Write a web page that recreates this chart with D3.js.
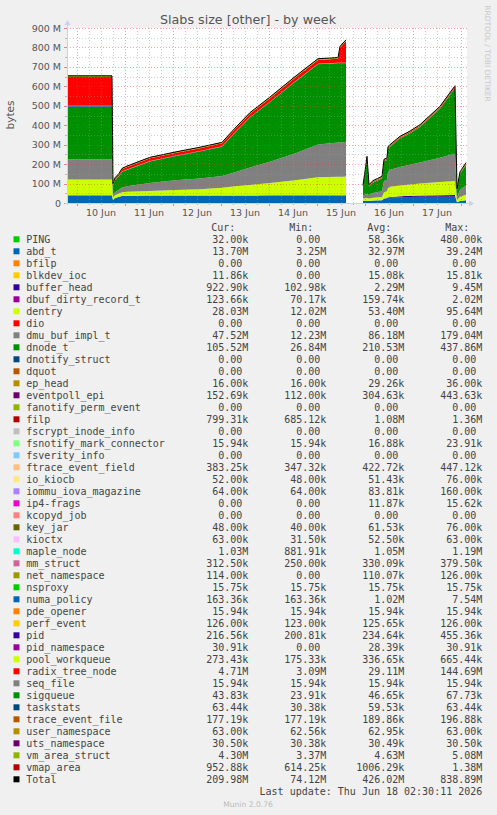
<!DOCTYPE html>
<html>
<head>
<meta charset="utf-8">
<script src="https://cdn.jsdelivr.net/npm/d3@7"></script>
<style>
  body { margin: 0; background: #f0f0f0; }
  svg { display: block; }
</style>
</head>
<body>
<svg id="chart"></svg>
<script>
// sample times (30 min steps in the rrd, only the turning points kept here)
const times = [
  '2026-06-09 19:00', '2026-06-10 17:30', '2026-06-10 18:00', '2026-06-10 19:00', '2026-06-10 21:00',
  '2026-06-10 22:30', '2026-06-11 01:00', '2026-06-11 12:30', '2026-06-12 01:00', '2026-06-12 13:30',
  '2026-06-13 00:30', '2026-06-13 07:00', '2026-06-13 14:30', '2026-06-14 00:30', '2026-06-14 13:00',
  '2026-06-15 00:30', '2026-06-15 10:30', '2026-06-15 11:30', '2026-06-15 13:00', '2026-06-15 14:30',
  '2026-06-15 18:30',
  '2026-06-15 23:00', '2026-06-16 00:30', '2026-06-16 01:00', '2026-06-16 02:00', '2026-06-16 04:00',
  '2026-06-16 08:30', '2026-06-16 09:30', '2026-06-16 11:00', '2026-06-16 11:30', '2026-06-16 12:30',
  '2026-06-16 17:30', '2026-06-16 22:30', '2026-06-17 03:30', '2026-06-17 13:30', '2026-06-17 21:00',
  '2026-06-17 22:00', '2026-06-17 23:30', '2026-06-18 02:30'
];

// values in MB, null = no data
const abd_t = [38, 38, 15, 25, 32, 36, 37, 37.5, 37.5, 37.5, 37.5, 38, 38, 38.5, 38.5, 39, 39.2, 39.2, 39.2, 39.2, null,
  10, 11, 11, 10, 13, 14, 22, 24, 27, 28, 30, 31, 32, 32, 32, 3.3, 10, 13.7];
const buffer_head = [1.5, 1.5, 0.3, 0.4, 0.5, 0.5, 0.6, 0.8, 0.9, 1, 1, 1, 1, 1, 1, 1, 1, 1, 1, 1, null,
  0.4, 0.4, 0.4, 0.4, 0.5, 0.6, 1, 2, 2.5, 3, 5, 6, 7, 8.5, 9.4, 0.2, 0.6, 0.92];
const dentry = [82, 82, 12.5, 14, 16, 19, 20, 24, 28, 32, 40, 47, 54, 63, 77, 93, 95, 95, 95, 95.6, null,
  12.5, 14, 14, 13, 14, 16, 32, 34, 48, 52, 55, 58, 61, 67, 72, 12.1, 22, 28.03];
const dmu_buf_impl_t = [103, 103, 12.5, 16, 20, 24, 28, 40, 50, 56, 60, 72, 90, 110, 138, 168, 176, 177, 177, 179, null,
  16, 20, 20, 18, 24, 30, 58, 60, 82, 88, 95, 102, 108, 125, 140, 12.3, 35, 47.52];
const dnode_t = [268.6, 268.6, 49.5, 62.4, 68.1, 81, 84.7, 111.7, 123.9, 138.1, 151, 203.3, 257.1, 306.4, 368.1, 412.4, 407.9, 406.9, 406.9, 404.3, null,
  42.2, 144.5, 184.5, 44.1, 53.4, 65.9, 100.9, 100.9, 119.4, 117.9, 146.7, 161.5, 183.4, 252.6, 336.3, 37.4, 81, 105.52];
const filp = [1.3, 1.3, 0.8, 0.8, 0.8, 0.8, 0.9, 0.9, 1, 1, 1, 1, 1.1, 1.1, 1.2, 1.2, 1.3, 1.3, 1.3, 1.3, null,
  0.7, 0.8, 0.8, 0.7, 0.7, 0.8, 0.8, 0.8, 0.8, 0.8, 0.8, 0.8, 0.8, 0.8, 0.9, 0.7, 0.8, 0.8];
const maple_node = [1.1, 1.1, 0.9, 0.9, 0.9, 0.9, 0.9, 1, 1, 1, 1, 1, 1, 1.1, 1.1, 1.1, 1.2, 1.2, 1.2, 1.2, null,
  0.9, 0.9, 0.9, 0.9, 0.9, 0.9, 1, 1, 1, 1, 1, 1, 1, 1, 1.1, 0.9, 1, 1.03];
const numa_policy = [7.5, 7.5, 0.3, 0.2, 0.2, 0.2, 0.2, 0.2, 0.2, 0.2, 0.2, 0.2, 0.2, 0.2, 0.2, 0.2, 0.2, 0.2, 0.2, 0.2, null,
  0.16, 0.16, 0.16, 0.16, 0.16, 0.16, 0.16, 0.16, 0.16, 0.16, 0.16, 0.16, 0.16, 0.16, 0.16, 0.16, 0.16, 0.16];
const radix_tree_node = [144.7, 144.7, 4, 6, 9, 11, 13, 14, 14.5, 15, 15, 16, 17, 18, 19, 20, 20, 77, 95, 110.9, null,
  3.1, 4, 4, 3.5, 4, 4.2, 4.5, 4.5, 4.5, 4.5, 4.6, 4.7, 4.8, 5, 6, 3.1, 4.3, 4.71];
const vm_area_struct = [5, 5, 3.5, 3.6, 3.8, 3.9, 4, 4.1, 4.2, 4.3, 4.4, 4.5, 4.6, 4.7, 4.8, 4.9, 5, 5, 5, 5, null,
  3.4, 3.5, 3.5, 3.5, 3.6, 3.7, 3.8, 3.8, 3.8, 3.8, 3.9, 4, 4, 4.1, 4.2, 3.4, 4.2, 4.3];
const vmap_area = [1.3, 1.3, 0.7, 0.7, 0.7, 0.7, 0.7, 0.8, 0.8, 0.9, 0.9, 1, 1, 1, 1.1, 1.2, 1.2, 1.2, 1.2, 1.2, null,
  0.62, 0.7, 0.7, 0.7, 0.7, 0.7, 0.8, 0.8, 0.8, 0.8, 0.8, 0.8, 0.8, 0.8, 0.9, 0.62, 0.9, 0.95];

const yTickValues = [0, 100, 200, 300, 400, 500, 600, 700, 800, 900];
const yTickLabels = ['0', '100 M', '200 M', '300 M', '400 M', '500 M', '600 M', '700 M', '800 M', '900 M'];
const xTickDays = ['2026-06-10', '2026-06-11', '2026-06-12', '2026-06-13', '2026-06-14', '2026-06-15', '2026-06-16', '2026-06-17'];
const xTickLabels = ['10 Jun', '11 Jun', '12 Jun', '13 Jun', '14 Jun', '15 Jun', '16 Jun', '17 Jun'];

const legendNames = ['PING', 'abd_t', 'bfilp', 'blkdev_ioc', 'buffer_head', 'dbuf_dirty_record_t', 'dentry', 'dio',
  'dmu_buf_impl_t', 'dnode_t', 'dnotify_struct', 'dquot', 'ep_head', 'eventpoll_epi', 'fanotify_perm_event', 'filp',
  'fscrypt_inode_info', 'fsnotify_mark_connector', 'fsverity_info', 'ftrace_event_field', 'io_kiocb',
  'iommu_iova_magazine', 'ip4-frags', 'kcopyd_job', 'key_jar', 'kioctx', 'maple_node', 'mm_struct', 'net_namespace',
  'nsproxy', 'numa_policy', 'pde_opener', 'perf_event', 'pid', 'pid_namespace', 'pool_workqueue', 'radix_tree_node',
  'seq_file', 'sigqueue', 'taskstats', 'trace_event_file', 'user_namespace', 'uts_namespace', 'vm_area_struct',
  'vmap_area', 'Total'];
const legendColors = ['#00CC00', '#0066B3', '#FF8000', '#FFCC00', '#330099', '#990099', '#CCFF00', '#FF0000',
  '#808080', '#008F00', '#00487D', '#B35A00', '#B38F00', '#6B006B', '#8FB300', '#B30000', '#BEBEBE', '#80FF80',
  '#80C9FF', '#FFC080', '#FFE680', '#AA80FF', '#EE00CC', '#FF8080', '#666600', '#FFBFFF', '#00FFCC', '#CC6699',
  '#999900', '#00CC00', '#0066B3', '#FF8000', '#FFCC00', '#330099', '#990099', '#CCFF00', '#FF0000', '#808080',
  '#008F00', '#00487D', '#B35A00', '#B38F00', '#6B006B', '#8FB300', '#B30000', '#000000'];
const curVals = ['32.00k', '13.70M', '0.00', '11.86k', '922.90k', '123.66k', '28.03M', '0.00', '47.52M', '105.52M',
  '0.00', '0.00', '16.00k', '152.69k', '0.00', '799.31k', '0.00', '15.94k', '0.00', '383.25k', '52.00k', '64.00k',
  '0.00', '0.00', '48.00k', '63.00k', '1.03M', '312.50k', '114.00k', '15.75k', '163.36k', '15.94k', '126.00k',
  '216.56k', '30.91k', '273.43k', '4.71M', '15.94k', '43.83k', '63.44k', '177.19k', '63.00k', '30.50k', '4.30M',
  '952.88k', '209.98M'];
const minVals = ['0.00', '3.25M', '0.00', '0.00', '102.98k', '70.17k', '12.02M', '0.00', '12.23M', '26.84M',
  '0.00', '0.00', '16.00k', '112.00k', '0.00', '685.12k', '0.00', '15.94k', '0.00', '347.32k', '48.00k', '64.00k',
  '0.00', '0.00', '40.00k', '31.50k', '881.91k', '250.00k', '0.00', '15.75k', '163.36k', '15.94k', '123.00k',
  '200.81k', '0.00', '175.33k', '3.09M', '15.94k', '23.91k', '30.38k', '177.19k', '62.56k', '30.38k', '3.37M',
  '614.25k', '74.12M'];
const avgVals = ['58.36k', '32.97M', '0.00', '15.08k', '2.29M', '159.74k', '53.40M', '0.00', '86.18M', '210.53M',
  '0.00', '0.00', '29.26k', '304.63k', '0.00', '1.08M', '0.00', '16.88k', '0.00', '422.72k', '51.43k', '83.81k',
  '11.87k', '0.00', '61.53k', '52.50k', '1.05M', '330.09k', '110.07k', '15.75k', '1.02M', '15.94k', '125.65k',
  '234.64k', '28.39k', '336.65k', '29.11M', '15.94k', '46.65k', '59.53k', '189.86k', '62.95k', '30.49k', '4.63M',
  '1006.29k', '426.02M'];
const maxVals = ['480.00k', '39.24M', '0.00', '15.81k', '9.45M', '2.02M', '95.64M', '0.00', '179.04M', '437.86M',
  '0.00', '0.00', '36.00k', '443.63k', '0.00', '1.36M', '0.00', '23.91k', '0.00', '447.12k', '76.00k', '160.00k',
  '15.62k', '0.00', '76.00k', '63.00k', '1.19M', '379.50k', '126.00k', '15.75k', '7.54M', '15.94k', '126.00k',
  '455.36k', '30.91k', '665.44k', '144.69M', '15.94k', '67.73k', '63.44k', '196.88k', '63.00k', '30.50k', '5.08M',
  '1.38M', '838.89M'];

const W = 497, H = 815;
const cLeft = 67, cRight = 467, cTop = 28, cBottom = 203;
const parse = d3.timeParse('%Y-%m-%d %H:%M');
const parseDay = d3.timeParse('%Y-%m-%d');

const svg = d3.select('#chart').attr('width', W).attr('height', H);
svg.append('rect').attr('width', W).attr('height', H).attr('fill', '#f0f0f0');
svg.append('rect').attr('x', cLeft).attr('y', cTop).attr('width', cRight - cLeft).attr('height', cBottom - cTop).attr('fill', '#fff');

const x = d3.scaleTime().domain([parse('2026-06-09 19:00'), parse('2026-06-18 03:00')]).range([cLeft, cRight]);
const y = d3.scaleLinear().domain([0, 900e6]).range([cBottom, cTop]);

const keys = ['abd_t', 'buffer_head', 'dentry', 'dmu_buf_impl_t', 'dnode_t', 'filp', 'maple_node', 'numa_policy',
  'radix_tree_node', 'vm_area_struct', 'vmap_area'];
const values = { abd_t, buffer_head, dentry, dmu_buf_impl_t, dnode_t, filp, maple_node, numa_policy,
  radix_tree_node, vm_area_struct, vmap_area };
const colorOf = name => legendColors[legendNames.indexOf(name)];

const rows = times.map((t, i) => {
  const r = { date: parse(t) };
  keys.forEach(k => { r[k] = values[k][i] == null ? NaN : values[k][i] * 1e6; });
  r.total = keys.some(k => isNaN(r[k])) ? NaN : d3.sum(keys, k => r[k]);
  return r;
});

const stacked = d3.stack().keys(keys)(rows);

svg.append('clipPath').attr('id', 'canvas')
  .append('rect').attr('x', cLeft).attr('y', cTop).attr('width', cRight - cLeft).attr('height', cBottom - cTop);

const area = d3.area()
  .defined(d => !isNaN(d[1]))
  .x(d => x(d.data.date))
  .y0(d => y(d[0]))
  .y1(d => y(d[1]));

const g = svg.append('g').attr('clip-path', 'url(#canvas)');
g.selectAll('path.layer')
  .data(stacked)
  .join('path')
  .attr('class', 'layer')
  .attr('fill', d => colorOf(d.key))
  .attr('d', area);

g.append('path')
  .datum(rows)
  .attr('fill', 'none')
  .attr('stroke', '#000')
  .attr('stroke-width', 1)
  .attr('d', d3.line().defined(d => !isNaN(d.total)).x(d => x(d.date)).y(d => y(d.total)));

// grid, drawn on top like rrdtool does
const minorCol = 'rgba(150,150,150,0.45)';
const majorCol = 'rgba(230,60,60,0.45)';
const grid = svg.append('g');
const hours = d3.timeHour.every(6).range(x.domain()[0], x.domain()[1]);
hours.forEach(h => {
  const major = h.getHours() === 0;
  const xp = Math.round(x(h)) + 0.5;
  grid.append('line').attr('x1', xp).attr('x2', xp).attr('y1', cTop).attr('y2', cBottom)
    .attr('stroke', major ? majorCol : minorCol).attr('stroke-dasharray', '1,2');
  grid.append('line').attr('x1', xp).attr('x2', xp).attr('y1', cBottom).attr('y2', cBottom + (major ? 3 : 2))
    .attr('stroke', major ? 'rgba(230,60,60,0.6)' : 'rgba(150,150,150,0.6)');
});
d3.range(50, 900, 100).concat(yTickValues).forEach(v => {
  const major = v % 100 === 0;
  const yp = Math.round(y(v * 1e6)) + 0.5;
  if (v > 0) {
    grid.append('line').attr('x1', cLeft).attr('x2', cRight).attr('y1', yp).attr('y2', yp)
      .attr('stroke', major ? majorCol : minorCol).attr('stroke-dasharray', '1,2');
  }
  grid.append('line').attr('x1', cLeft - (major ? 3 : 2)).attr('x2', cLeft).attr('y1', yp).attr('y2', yp)
    .attr('stroke', major ? 'rgba(230,60,60,0.6)' : 'rgba(150,150,150,0.6)');
});

// axes with arrows
const axisCol = '#c8d0f6';
svg.append('line').attr('x1', cLeft - 2).attr('x2', cRight + 3).attr('y1', cBottom + 0.5).attr('y2', cBottom + 0.5).attr('stroke', axisCol);
svg.append('line').attr('x1', cLeft + 0.5).attr('x2', cLeft + 0.5).attr('y1', cBottom + 2).attr('y2', cTop - 4).attr('stroke', axisCol);
svg.append('path').attr('d', `M${cRight + 7},${cBottom + 0.5} l-5,-3 l0,6 z`).attr('fill', axisCol);
svg.append('path').attr('d', `M${cLeft + 0.5},${cTop - 8} l-3,5 l6,0 z`).attr('fill', axisCol);

// axis labels
const axisFont = 'DejaVu Sans, sans-serif';
svg.append('g').selectAll('text')
  .data(yTickValues)
  .join('text')
  .attr('x', 61)
  .attr('y', d => y(d * 1e6) + 3.5)
  .attr('text-anchor', 'end')
  .attr('font-family', axisFont)
  .attr('font-size', 9.5)
  .attr('fill', '#555')
  .text((d, i) => yTickLabels[i]);

svg.append('g').selectAll('text')
  .data(xTickDays)
  .join('text')
  .attr('x', d => x(d3.timeHour.offset(parseDay(d), 12)))
  .attr('y', 215.5)
  .attr('text-anchor', 'middle')
  .attr('font-family', axisFont)
  .attr('font-size', 9.5)
  .attr('fill', '#555')
  .text((d, i) => xTickLabels[i]);

svg.append('text')
  .attr('transform', 'translate(14,115) rotate(-90)')
  .attr('text-anchor', 'middle')
  .attr('font-family', axisFont)
  .attr('font-size', 10.5)
  .attr('fill', '#555')
  .text('bytes');

svg.append('text')
  .attr('x', 248)
  .attr('y', 23.5)
  .attr('text-anchor', 'middle')
  .attr('font-family', axisFont)
  .attr('font-size', 12.7)
  .attr('fill', '#555')
  .text('Slabs size [other] - by week');

svg.append('text')
  .attr('transform', 'translate(485,53.5) rotate(90)')
  .attr('text-anchor', 'middle')
  .attr('font-family', axisFont)
  .attr('font-size', 7.5)
  .attr('fill', '#c8c8c8')
  .text('RRDTOOL / TOBI OETIKER');

// legend
const mono = 'DejaVu Sans Mono, monospace';
const charW = 6.02;
const colRight = [248.3, 326.3, 404.3, 482.3];
const headers = ['Cur:', 'Min:', 'Avg:', 'Max:'];
const legend = svg.append('g').attr('font-family', mono).attr('font-size', 10).attr('fill', '#444');

legend.selectAll('text.head')
  .data(headers)
  .join('text')
  .attr('class', 'head')
  .attr('x', (d, i) => colRight[i] - 13)
  .attr('y', 231.3)
  .attr('text-anchor', 'end')
  .text(d => d);

const rowY = i => 239.3 + 12 * i;
legendNames.forEach((name, i) => {
  legend.append('rect')
    .attr('x', 13.5).attr('y', rowY(i) - 3)
    .attr('width', 6).attr('height', 6)
    .attr('fill', legendColors[i]);
  legend.append('text')
    .attr('x', 26.3).attr('y', rowY(i) + 3.5)
    .text(name);
  [curVals, minVals, avgVals, maxVals].forEach((col, c) => {
    const s = col[i];
    const shift = /\d$/.test(s) ? charW : 0;
    legend.append('text')
      .attr('x', colRight[c] - shift)
      .attr('y', rowY(i) + 3.5)
      .attr('text-anchor', 'end')
      .text(s);
  });
});

legend.append('text')
  .attr('x', colRight[3])
  .attr('y', 794.6)
  .attr('text-anchor', 'end')
  .text('Last update: Thu Jun 18 02:30:11 2026');

svg.append('text')
  .attr('x', 248)
  .attr('y', 806.8)
  .attr('text-anchor', 'middle')
  .attr('font-family', axisFont)
  .attr('font-size', 7.6)
  .attr('fill', '#bbb')
  .text('Munin 2.0.76');
</script>
</body>
</html>
